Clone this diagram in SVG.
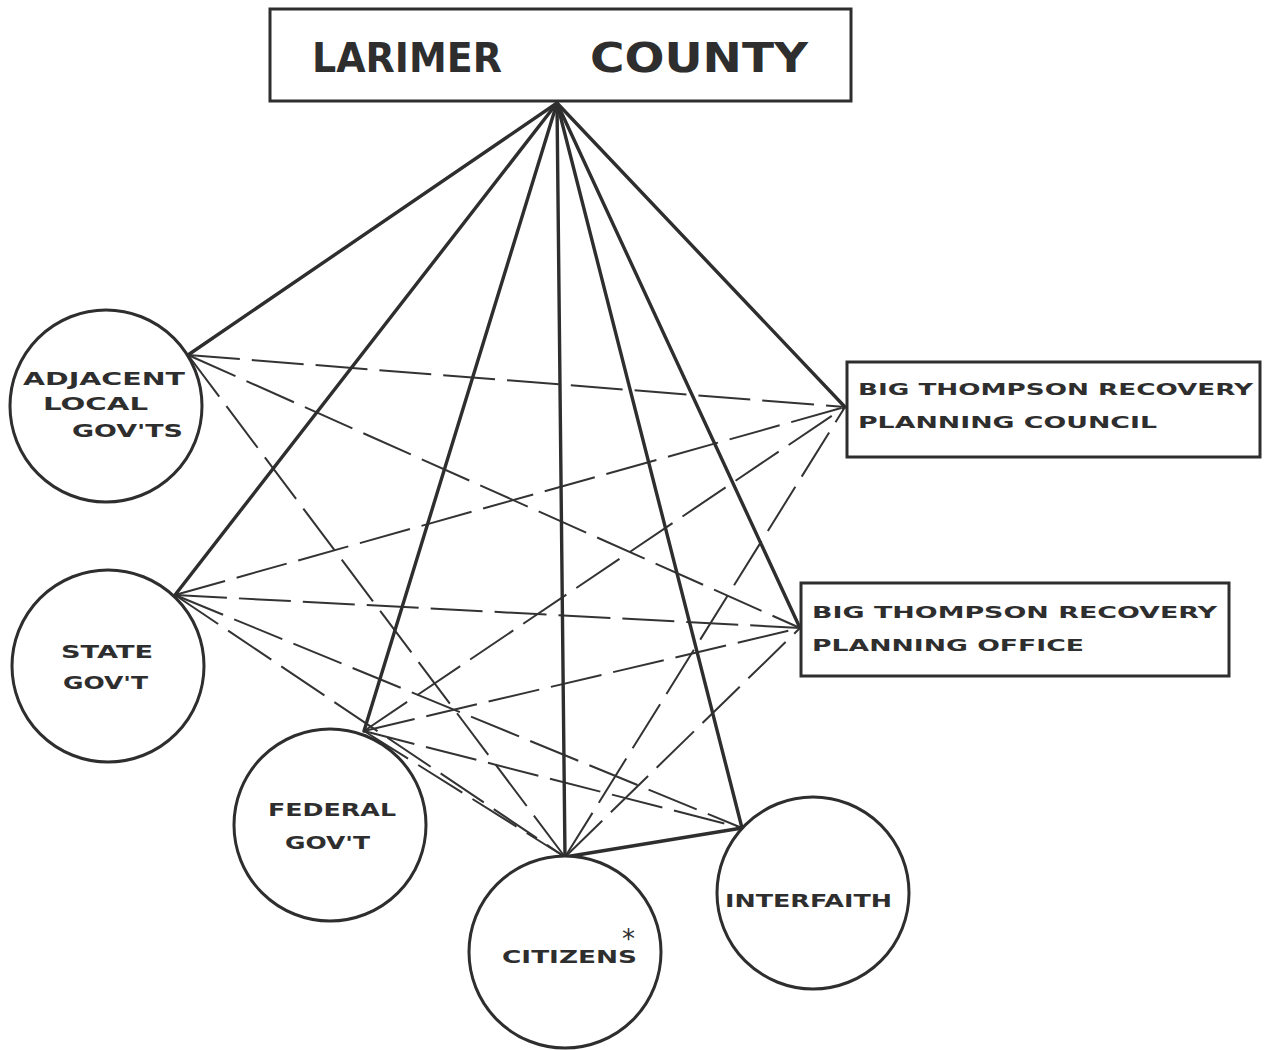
<svg xmlns="http://www.w3.org/2000/svg" width="1273" height="1050" viewBox="0 0 1273 1050">
<style>
.bg{fill:#ffffff}
.node{fill:#ffffff;stroke:#2e2e2e;stroke-width:3}
.solid{stroke:#2e2e2e;stroke-width:3.4;fill:none;stroke-linecap:round}
.dash{stroke:#333333;stroke-width:2;fill:none;stroke-dasharray:52 12}
.lbl{font-family:"DejaVu Sans","Liberation Sans",sans-serif;font-weight:bold;fill:#2e2e2e}
.big{font-size:40px}
.mid{font-size:18px}
.sm{font-size:15px}
.ast{font-family:"DejaVu Sans","Liberation Sans",sans-serif;font-size:26px;fill:#2e2e2e}
</style>
<rect class="bg" x="0" y="0" width="1273" height="1050"/>
<g id="connectors">
  <line class="dash" x1="188" y1="355" x2="845" y2="407"/>
  <line class="dash" x1="188" y1="355" x2="800" y2="628"/>
  <line class="dash" x1="188" y1="355" x2="565" y2="857"/>
  <line class="dash" x1="175" y1="595" x2="845" y2="407"/>
  <line class="dash" x1="175" y1="595" x2="800" y2="628"/>
  <line class="dash" x1="175" y1="595" x2="742" y2="828"/>
  <line class="dash" x1="175" y1="595" x2="565" y2="857"/>
  <line class="dash" x1="364" y1="731" x2="845" y2="407"/>
  <line class="dash" x1="364" y1="731" x2="800" y2="628"/>
  <line class="dash" x1="364" y1="731" x2="742" y2="828"/>
  <line class="dash" x1="364" y1="731" x2="565" y2="857"/>
  <line class="dash" x1="565" y1="857" x2="845" y2="407"/>
  <line class="dash" x1="565" y1="857" x2="800" y2="628"/>
  <line class="solid" x1="557" y1="103" x2="188" y2="355"/>
  <line class="solid" x1="557" y1="103" x2="175" y2="595"/>
  <line class="solid" x1="557" y1="103" x2="364" y2="731"/>
  <line class="solid" x1="557" y1="103" x2="565" y2="857"/>
  <line class="solid" x1="557" y1="103" x2="742" y2="828"/>
  <line class="solid" x1="557" y1="103" x2="800" y2="628"/>
  <line class="solid" x1="557" y1="103" x2="845" y2="407"/>
  <line class="solid" x1="565" y1="857" x2="742" y2="828"/>
</g>
<g id="larimer">
  <rect class="node" x="270" y="9" width="581" height="92"/>
  <text class="lbl big" x="312" y="72" textLength="190" lengthAdjust="spacingAndGlyphs">LARIMER</text>
  <text class="lbl big" x="590" y="72" textLength="218" lengthAdjust="spacingAndGlyphs">COUNTY</text>
</g>
<g id="adjacent">
  <circle class="node" cx="106" cy="406" r="96"/>
  <text class="lbl mid" x="23" y="385" textLength="162" lengthAdjust="spacingAndGlyphs">ADJACENT</text>
  <text class="lbl mid" x="43" y="410" textLength="105" lengthAdjust="spacingAndGlyphs">LOCAL</text>
  <text class="lbl mid" x="72" y="437" textLength="111" lengthAdjust="spacingAndGlyphs">GOV'TS</text>
</g>
<g id="state">
  <circle class="node" cx="108" cy="666" r="96"/>
  <text class="lbl mid" x="61" y="658" textLength="92" lengthAdjust="spacingAndGlyphs">STATE</text>
  <text class="lbl mid" x="63" y="689" textLength="85" lengthAdjust="spacingAndGlyphs">GOV'T</text>
</g>
<g id="federal">
  <circle class="node" cx="330" cy="825" r="96"/>
  <text class="lbl mid" x="268" y="816" textLength="128" lengthAdjust="spacingAndGlyphs">FEDERAL</text>
  <text class="lbl mid" x="285" y="849" textLength="85" lengthAdjust="spacingAndGlyphs">GOV'T</text>
</g>
<g id="citizens">
  <circle class="node" cx="565" cy="952" r="96"/>
  <text class="lbl mid" x="502" y="963" textLength="135" lengthAdjust="spacingAndGlyphs">CITIZENS</text>
  <text class="ast" x="622" y="948">*</text>
</g>
<g id="interfaith">
  <circle class="node" cx="813" cy="893" r="96"/>
  <text class="lbl mid" x="725" y="907" textLength="167" lengthAdjust="spacingAndGlyphs">INTERFAITH</text>
</g>
<g id="council">
  <rect class="node" x="847" y="362" width="413" height="95"/>
  <text class="lbl sm" x="858" y="395" textLength="395" lengthAdjust="spacingAndGlyphs">BIG THOMPSON RECOVERY</text>
  <text class="lbl sm" x="858" y="428" textLength="299" lengthAdjust="spacingAndGlyphs">PLANNING COUNCIL</text>
</g>
<g id="office">
  <rect class="node" x="801" y="583" width="428" height="93"/>
  <text class="lbl sm" x="812" y="618" textLength="405" lengthAdjust="spacingAndGlyphs">BIG THOMPSON RECOVERY</text>
  <text class="lbl sm" x="812" y="651" textLength="272" lengthAdjust="spacingAndGlyphs">PLANNING OFFICE</text>
</g>
</svg>
